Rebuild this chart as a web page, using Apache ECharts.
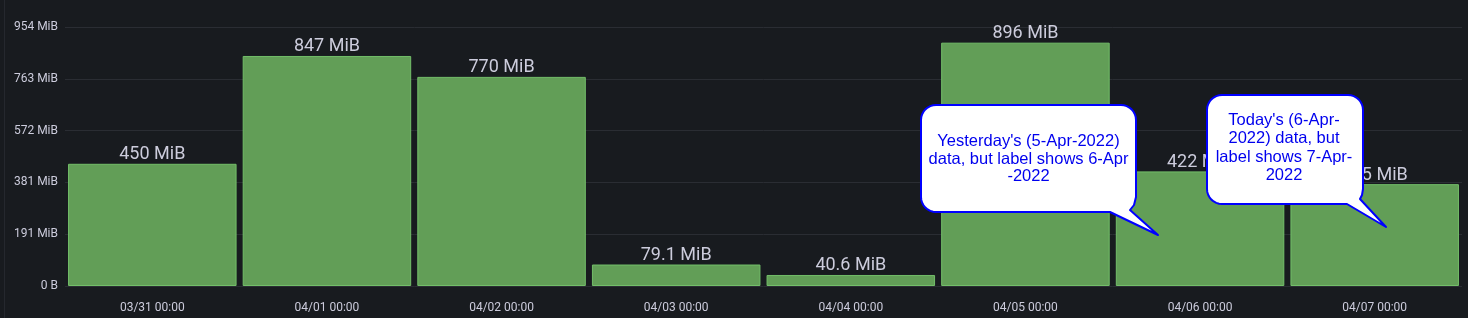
<!DOCTYPE html>
<html>
<head>
<meta charset="utf-8">
<script src="https://cdn.jsdelivr.net/npm/echarts@6/dist/echarts.min.js"></script>
<style>
html,body{margin:0;padding:0;background:#181b1f;}
#chart{width:1468px;height:318px;}
</style>
</head>
<body>
<div id="chart"></div>
<script>
const categories = ['03/31 00:00','04/01 00:00','04/02 00:00','04/03 00:00','04/04 00:00','04/05 00:00','04/06 00:00','04/07 00:00'];
const valuesMiB = [450, 847, 770, 79.1, 40.6, 896, 422, 375];
const yTickStepMiB = 200e6 / 1048576; // 200 MB in MiB
const yMaxMiB = 1000e6 / 1048576;
const callout1Lines = ["Yesterday's (5-Apr-2022)", "data, but label shows 6-Apr", "-2022"];
const callout2Lines = ["Today's (6-Apr-", "2022) data, but", "label shows 7-Apr-", "2022"];

const chart = echarts.init(document.getElementById('chart'), null, {renderer:'canvas'});
const textColor = '#ccccdc';
const font = 'Roboto';

function yLabel(v){
  if (Math.abs(v) < 1e-9) return '0 B';
  return Math.round(v) + ' MiB';
}

// speech-bubble outline: rounded box with a tail leaving near the bottom-right corner
function bubble(x1, y1, x2, y2, r, tail){
  const pts = [];
  function arc(cx, cy, a0, a1){
    const n = 8;
    for (let i = 0; i <= n; i++){
      const a = a0 + (a1 - a0) * i / n;
      pts.push([cx + r * Math.cos(a), cy + r * Math.sin(a)]);
    }
  }
  arc(x1 + r, y1 + r, Math.PI, 1.5 * Math.PI);          // top-left
  arc(x2 - r, y1 + r, 1.5 * Math.PI, 2 * Math.PI);      // top-right
  pts.push([x2, y2 - r]);
  tail.forEach(p => pts.push(p));
  arc(x1 + r, y2 - r, 0.5 * Math.PI, Math.PI);          // bottom-left
  return pts;
}

const option = {
  backgroundColor: '#181b1f',
  animation: false,
  grid: {left: 65, right: 6, top: 27, bottom: 32, containLabel: false},
  xAxis: {
    type: 'category',
    data: categories,
    axisLine: {show: false},
    axisTick: {show: false},
    axisLabel: {color: textColor, fontFamily: font, fontSize: 12, margin: 16}
  },
  yAxis: {
    type: 'value',
    min: 0,
    max: yMaxMiB,
    interval: yTickStepMiB,
    axisLine: {show: false},
    axisTick: {show: false},
    splitLine: {lineStyle: {color: '#2a2d33', width: 1}},
    axisLabel: {color: textColor, fontFamily: font, fontSize: 12, margin: 7, formatter: yLabel}
  },
  series: [{
    type: 'bar',
    data: valuesMiB,
    barCategoryGap: '3.5%',
    itemStyle: {color: '#629e57', borderColor: '#73bf69', borderWidth: 1},
    label: {
      show: true,
      position: 'top',
      distance: 0,
      color: textColor,
      fontFamily: font,
      fontSize: 18,
      formatter: p => p.value + ' MiB'
    }
  }],
  graphic: [
    {type: 'line', z: 50, shape: {x1: 4.5, y1: 0, x2: 4.5, y2: 318}, style: {stroke: '#25282e', lineWidth: 1}},
    {
      type: 'polygon', z: 100,
      shape: {points: bubble(921, 105, 1136, 212, 15, [[1134, 205], [1130, 210], [1158, 235], [1110, 212]])},
      style: {fill: '#ffffff', stroke: '#0000ff', lineWidth: 2, lineJoin: 'round'}
    },
    {
      type: 'text', z: 101, x: 1028.5, y: 159,
      style: {text: callout1Lines.join('\n'), fill: '#0000ee', font: '16.5px "Liberation Sans", Arial, sans-serif', textAlign: 'center', textVerticalAlign: 'middle', lineHeight: 17.5}
    },
    {
      type: 'polygon', z: 100,
      shape: {points: bubble(1207, 95, 1363, 204, 15, [[1362, 195], [1360, 199], [1386, 227], [1347, 204]])},
      style: {fill: '#ffffff', stroke: '#0000ff', lineWidth: 2, lineJoin: 'round'}
    },
    {
      type: 'text', z: 101, x: 1284, y: 148,
      style: {text: callout2Lines.join('\n'), fill: '#0000ee', font: '16.5px "Liberation Sans", Arial, sans-serif', textAlign: 'center', textVerticalAlign: 'middle', lineHeight: 18.3}
    }
  ]
};
chart.setOption(option);
</script>
</body>
</html>
